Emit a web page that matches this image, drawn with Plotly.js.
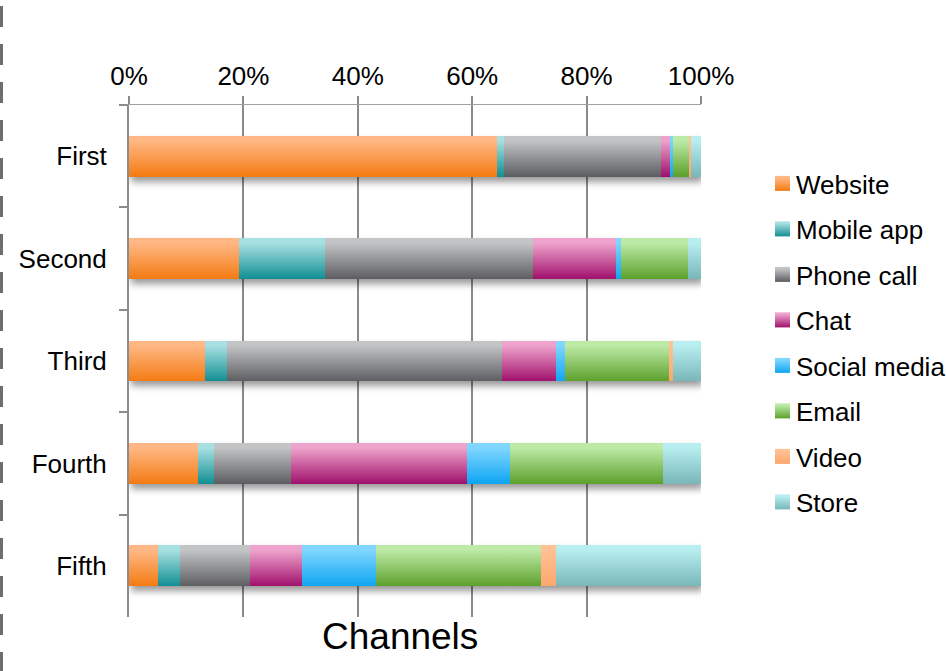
<!DOCTYPE html>
<html>
<head>
<meta charset="utf-8">
<script src="https://cdn.plot.ly/plotly-3.0.1.min.js"></script>
<style>
  html, body { margin: 0; padding: 0; background: #ffffff; }
  #chart { width: 946px; height: 671px; }
</style>
</head>
<body>
<div id="chart"></div>
<script>
// ---- Data (percent share per channel) ----
const categories = ['First', 'Second', 'Third', 'Fourth', 'Fifth'];
const seriesNames = ['Website', 'Mobile app', 'Phone call', 'Chat', 'Social media', 'Email', 'Video', 'Store'];
const website     = [64.2, 19.3, 13.2, 12.1,  5.0];
const mobileApp   = [ 1.3, 14.9,  4.0,  2.8,  3.9];
const phoneCall   = [27.5, 36.5, 48.0, 13.4, 12.3];
const chat        = [ 1.5, 14.4,  9.4, 30.8,  9.1];
const socialMedia = [ 0.5,  0.9,  1.7,  7.5, 12.9];
const email       = [ 2.8, 11.7, 18.1, 26.7, 28.9];
const video       = [ 0.4,  0.0,  0.7,  0.0,  2.6];
const store       = [ 1.7,  2.3,  4.9,  6.7, 25.3];
const xTickVals   = [0, 20, 40, 60, 80, 100];
const xTickText   = ['0%', '20%', '40%', '60%', '80%', '100%'];
const axisTitle   = 'Channels';

// ---- Styling ----
const seriesValues = [website, mobileApp, phoneCall, chat, socialMedia, email, video, store];
const gradTop    = ['#FFB785', '#A8E0E2', '#C3C4C6', '#EEA3CC', '#80D6FF', '#BDEAA6', '#FFC193', '#B8EEF0'];
const gradBottom = ['#F47B12', '#118E92', '#5C5D61', '#A0106C', '#0EA5F2', '#5CA02C', '#FCA66E', '#78B6B8'];
const FONT = 'Arial, "Liberation Sans", sans-serif';

const data = seriesNames.map((name, i) => ({
  type: 'bar',
  orientation: 'h',
  name: name,
  legendgroup: 'g' + i,
  y: categories,
  x: seriesValues[i],
  marker: { color: gradBottom[i], line: { width: 0 } },
  hoverinfo: 'skip'
}));

const L = 129, R = 701, T = 105, B = 617;
const pw = R - L, ph = B - T;
const px = v => (v - L) / pw;
const py = v => (B - v) / ph;

const layout = {
  width: 946, height: 671,
  margin: { l: L, r: 946 - R, t: T, b: 671 - B, autoexpand: false },
  paper_bgcolor: '#ffffff',
  plot_bgcolor: '#ffffff',
  barmode: 'stack',
  barnorm: 'percent',
  bargap: 0.6,
  font: { family: FONT, size: 26, color: '#000000' },
  showlegend: true,
  legend: {
    x: px(756), xanchor: 'left',
    y: py(160), yanchor: 'top',
    traceorder: 'grouped',
    tracegroupgap: 8.7,
    font: { family: FONT, size: 26, color: '#000000' },
    bgcolor: 'rgba(0,0,0,0)'
  },
  xaxis: {
    side: 'top',
    range: [0, 100],
    tickmode: 'array',
    tickvals: xTickVals,
    ticktext: xTickText,
    showgrid: true, gridcolor: '#8a8a8a', gridwidth: 2,
    zeroline: false,
    showline: true, linecolor: '#a0a0a0', linewidth: 1.5,
    ticks: 'outside', ticklen: 8, tickcolor: '#8a8a8a', tickwidth: 2,
    tickfont: { family: FONT, size: 26, color: '#000000' },
    automargin: false,
    fixedrange: true
  },
  yaxis: {
    type: 'category',
    categoryorder: 'array',
    categoryarray: categories,
    autorange: 'reversed',
    showgrid: false, zeroline: false,
    showline: true, linecolor: '#8c8c8c', linewidth: 2,
    ticks: 'outside', tickson: 'boundaries', ticklen: 8, tickcolor: '#8c8c8c', tickwidth: 2,
    tickfont: { family: FONT, size: 26, color: '#000000' },
    ticklabelstandoff: 15,
    automargin: false,
    fixedrange: true
  },
  annotations: [{
    text: axisTitle,
    xref: 'paper', yref: 'paper',
    x: px(400), y: py(636),
    xanchor: 'center', yanchor: 'middle',
    showarrow: false,
    font: { family: FONT, size: 37, color: '#000000' }
  }],
  shapes: [{
    type: 'line',
    xref: 'paper', yref: 'paper',
    x0: px(1.5), x1: px(1.5),
    y0: py(6), y1: py(671),
    line: { color: '#6e6e6e', width: 3, dash: '21px,17px' }
  }]
};

Plotly.newPlot('chart', data, layout, { staticPlot: true, displayModeBar: false }).then(gd => {
  const NS = 'http://www.w3.org/2000/svg';
  const svg = gd.querySelector('svg.main-svg');
  const defs = document.createElementNS(NS, 'defs');
  gradTop.forEach((top, i) => {
    const g = document.createElementNS(NS, 'linearGradient');
    g.setAttribute('id', 'barGrad' + i);
    g.setAttribute('x1', '0'); g.setAttribute('y1', '0');
    g.setAttribute('x2', '0'); g.setAttribute('y2', '1');
    [[0, top], [0.12, top], [1, gradBottom[i]]].forEach(([o, c]) => {
      const s = document.createElementNS(NS, 'stop');
      s.setAttribute('offset', o);
      s.setAttribute('stop-color', c);
      g.appendChild(s);
    });
    defs.appendChild(g);
  });
  const f = document.createElementNS(NS, 'filter');
  f.setAttribute('id', 'barShadow');
  f.setAttribute('x', '-5%'); f.setAttribute('y', '-20%');
  f.setAttribute('width', '110%'); f.setAttribute('height', '150%');
  const ds = document.createElementNS(NS, 'feDropShadow');
  ds.setAttribute('dx', '2'); ds.setAttribute('dy', '5');
  ds.setAttribute('stdDeviation', '3.5');
  ds.setAttribute('flood-color', '#000000');
  ds.setAttribute('flood-opacity', '0.4');
  f.appendChild(ds);
  defs.appendChild(f);
  svg.insertBefore(defs, svg.firstChild);

  gd.querySelectorAll('.barlayer .trace').forEach((t, i) => {
    t.querySelectorAll('path').forEach(p => { p.style.fill = 'url(#barGrad' + i + ')'; });
  });
  const bl = gd.querySelector('.barlayer');
  if (bl) bl.setAttribute('filter', 'url(#barShadow)');
  gd.querySelectorAll('.legend .traces').forEach((t, i) => {
    t.querySelectorAll('.legendpoints path').forEach(p => {
      p.style.fill = 'url(#barGrad' + i + ')';
      p.setAttribute('d', 'M14,7.5H-1V-7.5H14Z');
    });
  });
});
</script>
</body>
</html>
